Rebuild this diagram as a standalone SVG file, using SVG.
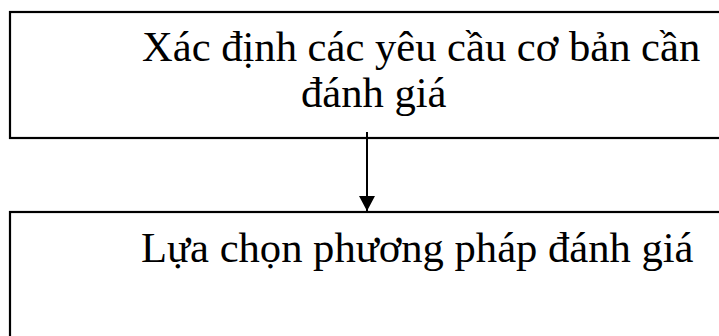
<svg xmlns="http://www.w3.org/2000/svg" width="719" height="336" viewBox="0 0 719 336">
<style>
.box{fill:#fff;stroke:#000;stroke-width:2.2}
.t{font-family:"Liberation Serif","Times New Roman",serif;font-size:42.6px;fill:#000}
.c{stroke:#000;stroke-width:2;fill:none}
</style>
<defs>
<marker id="ah" markerUnits="userSpaceOnUse" markerWidth="16" markerHeight="16" refX="15" refY="8" orient="auto">
<path d="M0,0 L15,8 L0,16 Z" fill="#000"/>
</marker>
</defs>
<rect width="719" height="336" fill="#fff"/>
<g id="n1">
<rect class="box" x="10" y="12" width="720" height="126"/>
<text class="t" x="142" y="61">Xác định các yêu cầu cơ bản cần</text>
<text class="t" x="301" y="107">đánh giá</text>
</g>
<g id="n2">
<rect class="box" x="10" y="212" width="720" height="140"/>
<text class="t" x="141" y="262">Lựa chọn phương pháp đánh giá</text>
</g>
<g id="connectors">
<line class="c" x1="367" y1="132" x2="367" y2="211" marker-end="url(#ah)"/>
</g>
</svg>
